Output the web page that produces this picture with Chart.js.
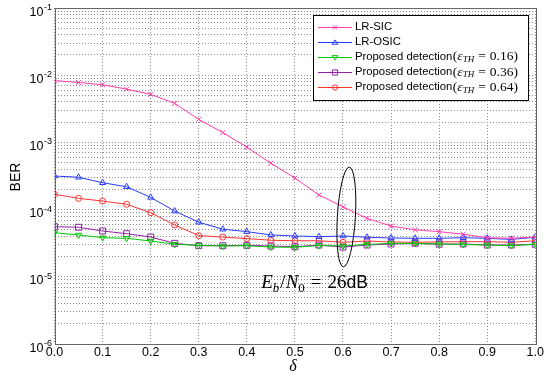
<!DOCTYPE html>
<html>
<head>
<meta charset="utf-8">
<style>
  html, body { margin: 0; padding: 0; background: #fff; }
  #wrap { width: 545px; height: 382px; }
</style>
<script src="https://cdn.jsdelivr.net/npm/chart.js@4/dist/chart.umd.min.js"></script>
</head>
<body>
<div id="wrap"><canvas id="c" width="545" height="382"></canvas></div>
<script>
// Offset parameter delta (x axis)
const delta = [0, 0.05, 0.1, 0.15, 0.2, 0.25, 0.3, 0.35, 0.4, 0.45, 0.5,
               0.55, 0.6, 0.65, 0.7, 0.75, 0.8, 0.85, 0.9, 0.95, 1.0];

// Bit error rate of each detector at Eb/N0 = 26 dB
const berLrSic = [8.3e-3, 7.8e-3, 7.2e-3, 6.2e-3, 5.2e-3, 3.8e-3, 2.2e-3, 1.4e-3, 8.5e-4, 4.9e-4, 2.95e-4,
                  1.65e-4, 1.1e-4, 7.4e-5, 5.7e-5, 5.0e-5, 4.7e-5, 4.3e-5, 3.8e-5, 3.75e-5, 3.9e-5];
const berLrOsic = [3.16e-4, 3.03e-4, 2.51e-4, 2.19e-4, 1.52e-4, 9.5e-5, 6.5e-5, 5.1e-5, 4.7e-5, 4.2e-5, 4.05e-5,
                   3.95e-5, 4.05e-5, 3.87e-5, 3.78e-5, 3.74e-5, 3.74e-5, 3.82e-5, 3.74e-5, 3.6e-5, 3.87e-5];
const berProp016 = [4.53e-5, 4.19e-5, 3.82e-5, 3.74e-5, 3.41e-5, 3.05e-5, 2.94e-5, 2.87e-5, 2.9e-5, 2.77e-5, 2.75e-5,
                    2.92e-5, 2.87e-5, 3.03e-5, 3.15e-5, 3.13e-5, 3.08e-5, 3.03e-5, 2.97e-5, 2.92e-5, 3.03e-5];
const berProp036 = [5.57e-5, 5.46e-5, 4.81e-5, 4.38e-5, 3.91e-5, 3.15e-5, 2.9e-5, 2.9e-5, 2.94e-5, 2.87e-5, 2.8e-5,
                    2.97e-5, 2.77e-5, 2.97e-5, 3.08e-5, 3.15e-5, 3.05e-5, 3.08e-5, 2.97e-5, 2.97e-5, 3.05e-5];
const berProp064 = [1.69e-4, 1.47e-4, 1.34e-4, 1.2e-4, 9.0e-5, 5.9e-5, 4.1e-5, 3.9e-5, 3.7e-5, 3.5e-5, 3.44e-5,
                    3.44e-5, 3.26e-5, 3.41e-5, 3.3e-5, 3.26e-5, 3.3e-5, 3.33e-5, 3.33e-5, 3.26e-5, 3.44e-5];

// Legend labels: plain part and threshold value
const seriesNames = ['LR-SIC', 'LR-OSIC', 'Proposed detection', 'Proposed detection', 'Proposed detection'];
const thresholds = [null, null, '0.16', '0.36', '0.64'];

// Axis ticks
const xTicks = [0, 0.1, 0.2, 0.3, 0.4, 0.5, 0.6, 0.7, 0.8, 0.9, 1.0];
const yExponents = [-1, -2, -3, -4, -5, -6];

const SANS = '"Liberation Sans", Arial, Helvetica, sans-serif';
const SERIF = '"Liberation Serif", "Times New Roman", serif';

const styles = [
  { color: 'rgb(255,60,170)', point: 'crossRot', r: 3.5, rot: 0 },
  { color: 'rgb(40,60,255)', point: 'triangle', r: 3.5, rot: 0 },
  { color: 'rgb(0,200,0)', point: 'triangle', r: 3.5, rot: 180 },
  { color: 'rgb(150,30,170)', point: 'rect', r: 4.2, rot: 0 },
  { color: 'rgb(255,50,50)', point: 'circle', r: 3, rot: 0 }
];
const seriesData = [berLrSic, berLrOsic, berProp016, berProp036, berProp064];

const datasets = seriesData.map((arr, i) => ({
  label: seriesNames[i] + (thresholds[i] ? '(εTH = ' + thresholds[i] + ')' : ''),
  data: arr.map((v, k) => ({ x: delta[k], y: v })),
  borderColor: styles[i].color,
  backgroundColor: 'rgba(0,0,0,0)',
  pointBorderColor: styles[i].color,
  pointBackgroundColor: 'rgba(0,0,0,0)',
  pointStyle: styles[i].point,
  pointRadius: styles[i].r,
  pointRotation: styles[i].rot,
  pointBorderWidth: 1,
  borderWidth: 1,
  tension: 0
}));

// small legend marker, a touch smaller than the plotted ones
function drawMarker(ctx, st, x, y) {
  ctx.save();
  ctx.strokeStyle = st.color;
  ctx.lineWidth = 1;
  ctx.beginPath();
  const r = 2.6;
  if (st.point === 'crossRot') {
    const d = r * 0.85;
    ctx.moveTo(x - d, y - d); ctx.lineTo(x + d, y + d);
    ctx.moveTo(x - d, y + d); ctx.lineTo(x + d, y - d);
  } else if (st.point === 'triangle') {
    const s = st.rot === 180 ? -1 : 1;
    const w = r * 1.1;
    ctx.moveTo(x, y - s * r);
    ctx.lineTo(x - w, y + s * r * 0.7);
    ctx.lineTo(x + w, y + s * r * 0.7);
    ctx.closePath();
  } else if (st.point === 'rect') {
    ctx.rect(x - r, y - r, 2 * r, 2 * r);
  } else {
    ctx.arc(x, y, r, 0, Math.PI * 2);
  }
  ctx.stroke();
  ctx.restore();
}

// Frame, tick labels, axis titles, legend and the Eb/N0 note
const decorations = {
  id: 'decorations',
  afterDatasetsDraw(chart) {
    const ctx = chart.ctx;
    const a = chart.chartArea;
    const xs = chart.scales.x, ys = chart.scales.y;
    ctx.save();

    // plot frame
    ctx.strokeStyle = '#666';
    ctx.lineWidth = 1;
    ctx.strokeRect(Math.round(a.left) + 0.5, Math.round(a.top) + 0.5,
                   Math.round(a.right - a.left), Math.round(a.bottom - a.top));

    // y tick labels 10^n
    ctx.fillStyle = '#000';
    yExponents.forEach(e => {
      const py = ys.getPixelForValue(Math.pow(10, e));
      ctx.font = '12.5px ' + SANS;
      ctx.textAlign = 'right';
      ctx.textBaseline = 'alphabetic';
      ctx.fillText('10', 43.5, py + 7.5);
      ctx.font = '9px ' + SANS;
      ctx.textAlign = 'left';
      ctx.fillText(String(e), 44, py + 2);
    });

    // axis titles
    ctx.font = '14px ' + SANS;
    ctx.textAlign = 'center';
    ctx.textBaseline = 'middle';
    ctx.save();
    ctx.translate(16, 177);
    ctx.rotate(-Math.PI / 2);
    ctx.fillText('BER', 0, 0);
    ctx.restore();
    ctx.font = 'italic 16px ' + SERIF;
    ctx.fillText('δ', (a.left + a.right) / 2 - 2, 367);

    // legend
    const lx = 313, ly = 15, lw = 215, lh = 85;
    ctx.fillStyle = '#fff';
    ctx.fillRect(lx, ly, lw, lh);
    ctx.strokeStyle = '#000';
    ctx.strokeRect(lx + 0.5, ly + 0.5, lw, lh);
    for (let i = 0; i < seriesNames.length; i++) {
      const y = 26.5 + i * 15.2;
      ctx.strokeStyle = styles[i].color;
      ctx.lineWidth = 1;
      ctx.beginPath();
      ctx.moveTo(318, Math.round(y) + 0.5);
      ctx.lineTo(352, Math.round(y) + 0.5);
      ctx.stroke();
      drawMarker(ctx, styles[i], 335, Math.round(y) + 0.5);
      ctx.fillStyle = '#000';
      ctx.textAlign = 'left';
      ctx.textBaseline = 'middle';
      ctx.font = '11.3px ' + SANS;
      let tx = 355;
      ctx.fillText(seriesNames[i], tx, y);
      if (thresholds[i]) {
        tx += ctx.measureText(seriesNames[i]).width + 0.5;
        ctx.font = '13.5px ' + SERIF;
        ctx.fillText('(', tx, y); tx += ctx.measureText('(').width;
        ctx.font = 'italic 13.5px ' + SERIF;
        ctx.fillText('ε', tx, y); tx += ctx.measureText('ε').width;
        ctx.font = 'italic 9px ' + SERIF;
        ctx.fillText('TH', tx, y + 3); tx += ctx.measureText('TH').width + 4;
        ctx.font = '13.5px ' + SERIF;
        ctx.fillText('=', tx, y); tx += ctx.measureText('=').width + 4;
        ctx.fillText(thresholds[i] + ')', tx, y);
      }
    }

    // Eb/N0 annotation: ellipse around the curves at delta ~ 0.6
    const ex = xs.getPixelForValue(0.607);
    const eyTop = ys.getPixelForValue(4.3e-4);
    const eyBot = ys.getPixelForValue(1.4e-5);
    ctx.strokeStyle = '#000';
    ctx.lineWidth = 1;
    ctx.beginPath();
    ctx.ellipse(ex, (eyTop + eyBot) / 2, 9, (eyBot - eyTop) / 2, 0.06, 0, Math.PI * 2);
    ctx.stroke();

    let tx = xs.getPixelForValue(0.43);
    const ty = ys.getPixelForValue(6.8e-6);
    ctx.fillStyle = '#000';
    ctx.textAlign = 'left';
    ctx.textBaseline = 'alphabetic';
    const part = (txt, font, dy, extra) => {
      ctx.font = font;
      ctx.fillText(txt, tx, ty + dy);
      tx += ctx.measureText(txt).width + (extra || 0);
    };
    part('E', 'italic 19px ' + SERIF, 0, 0);
    part('b', 'italic 13px ' + SERIF, 4, 1);
    part('/', '19px ' + SERIF, 0, 0);
    part('N', 'italic 19px ' + SERIF, 0, 0);
    part('0', '13px ' + SERIF, 4, 6);
    part('=', '19px ' + SERIF, 0, 6);
    part('26', '19px ' + SERIF, 0, 0);
    part('dB', '17.5px ' + SANS, 0, 0);

    ctx.restore();
  }
};

new Chart(document.getElementById('c'), {
  type: 'line',
  data: { datasets },
  options: {
    responsive: false,
    animation: false,
    layout: { padding: { top: 8, right: 9, left: 0, bottom: 0 } },
    plugins: { legend: { display: false }, tooltip: { enabled: false } },
    scales: {
      x: {
        type: 'linear',
        min: 0, max: 1,
        afterBuildTicks: s => { s.ticks = xTicks.map(v => ({ value: v })); },
        afterFit: s => { s.height = 38; },
        ticks: {
          color: '#000',
          font: { family: SANS, size: 12.5 },
          padding: 1,
          maxRotation: 0,
          autoSkip: false,
          callback: v => Number(v).toFixed(1)
        },
        grid: { color: '#8a8a8a', lineWidth: 1, drawTicks: false },
        border: { display: false, dash: [1, 2] }
      },
      y: {
        type: 'logarithmic',
        min: 1e-6, max: 1e-1,
        afterBuildTicks: s => {
          const t = [];
          for (let e = -6; e <= -2; e++) {
            for (let m = 1; m <= 9; m++) t.push({ value: m * Math.pow(10, e) });
          }
          t.push({ value: 1e-1 });
          s.ticks = t;
        },
        afterFit: s => { s.width = 54.5; },
        ticks: { display: false },
        grid: { color: '#8a8a8a', lineWidth: 1, drawTicks: false },
        border: { display: false, dash: [1, 2] }
      }
    }
  },
  plugins: [decorations]
});
</script>
</body>
</html>
